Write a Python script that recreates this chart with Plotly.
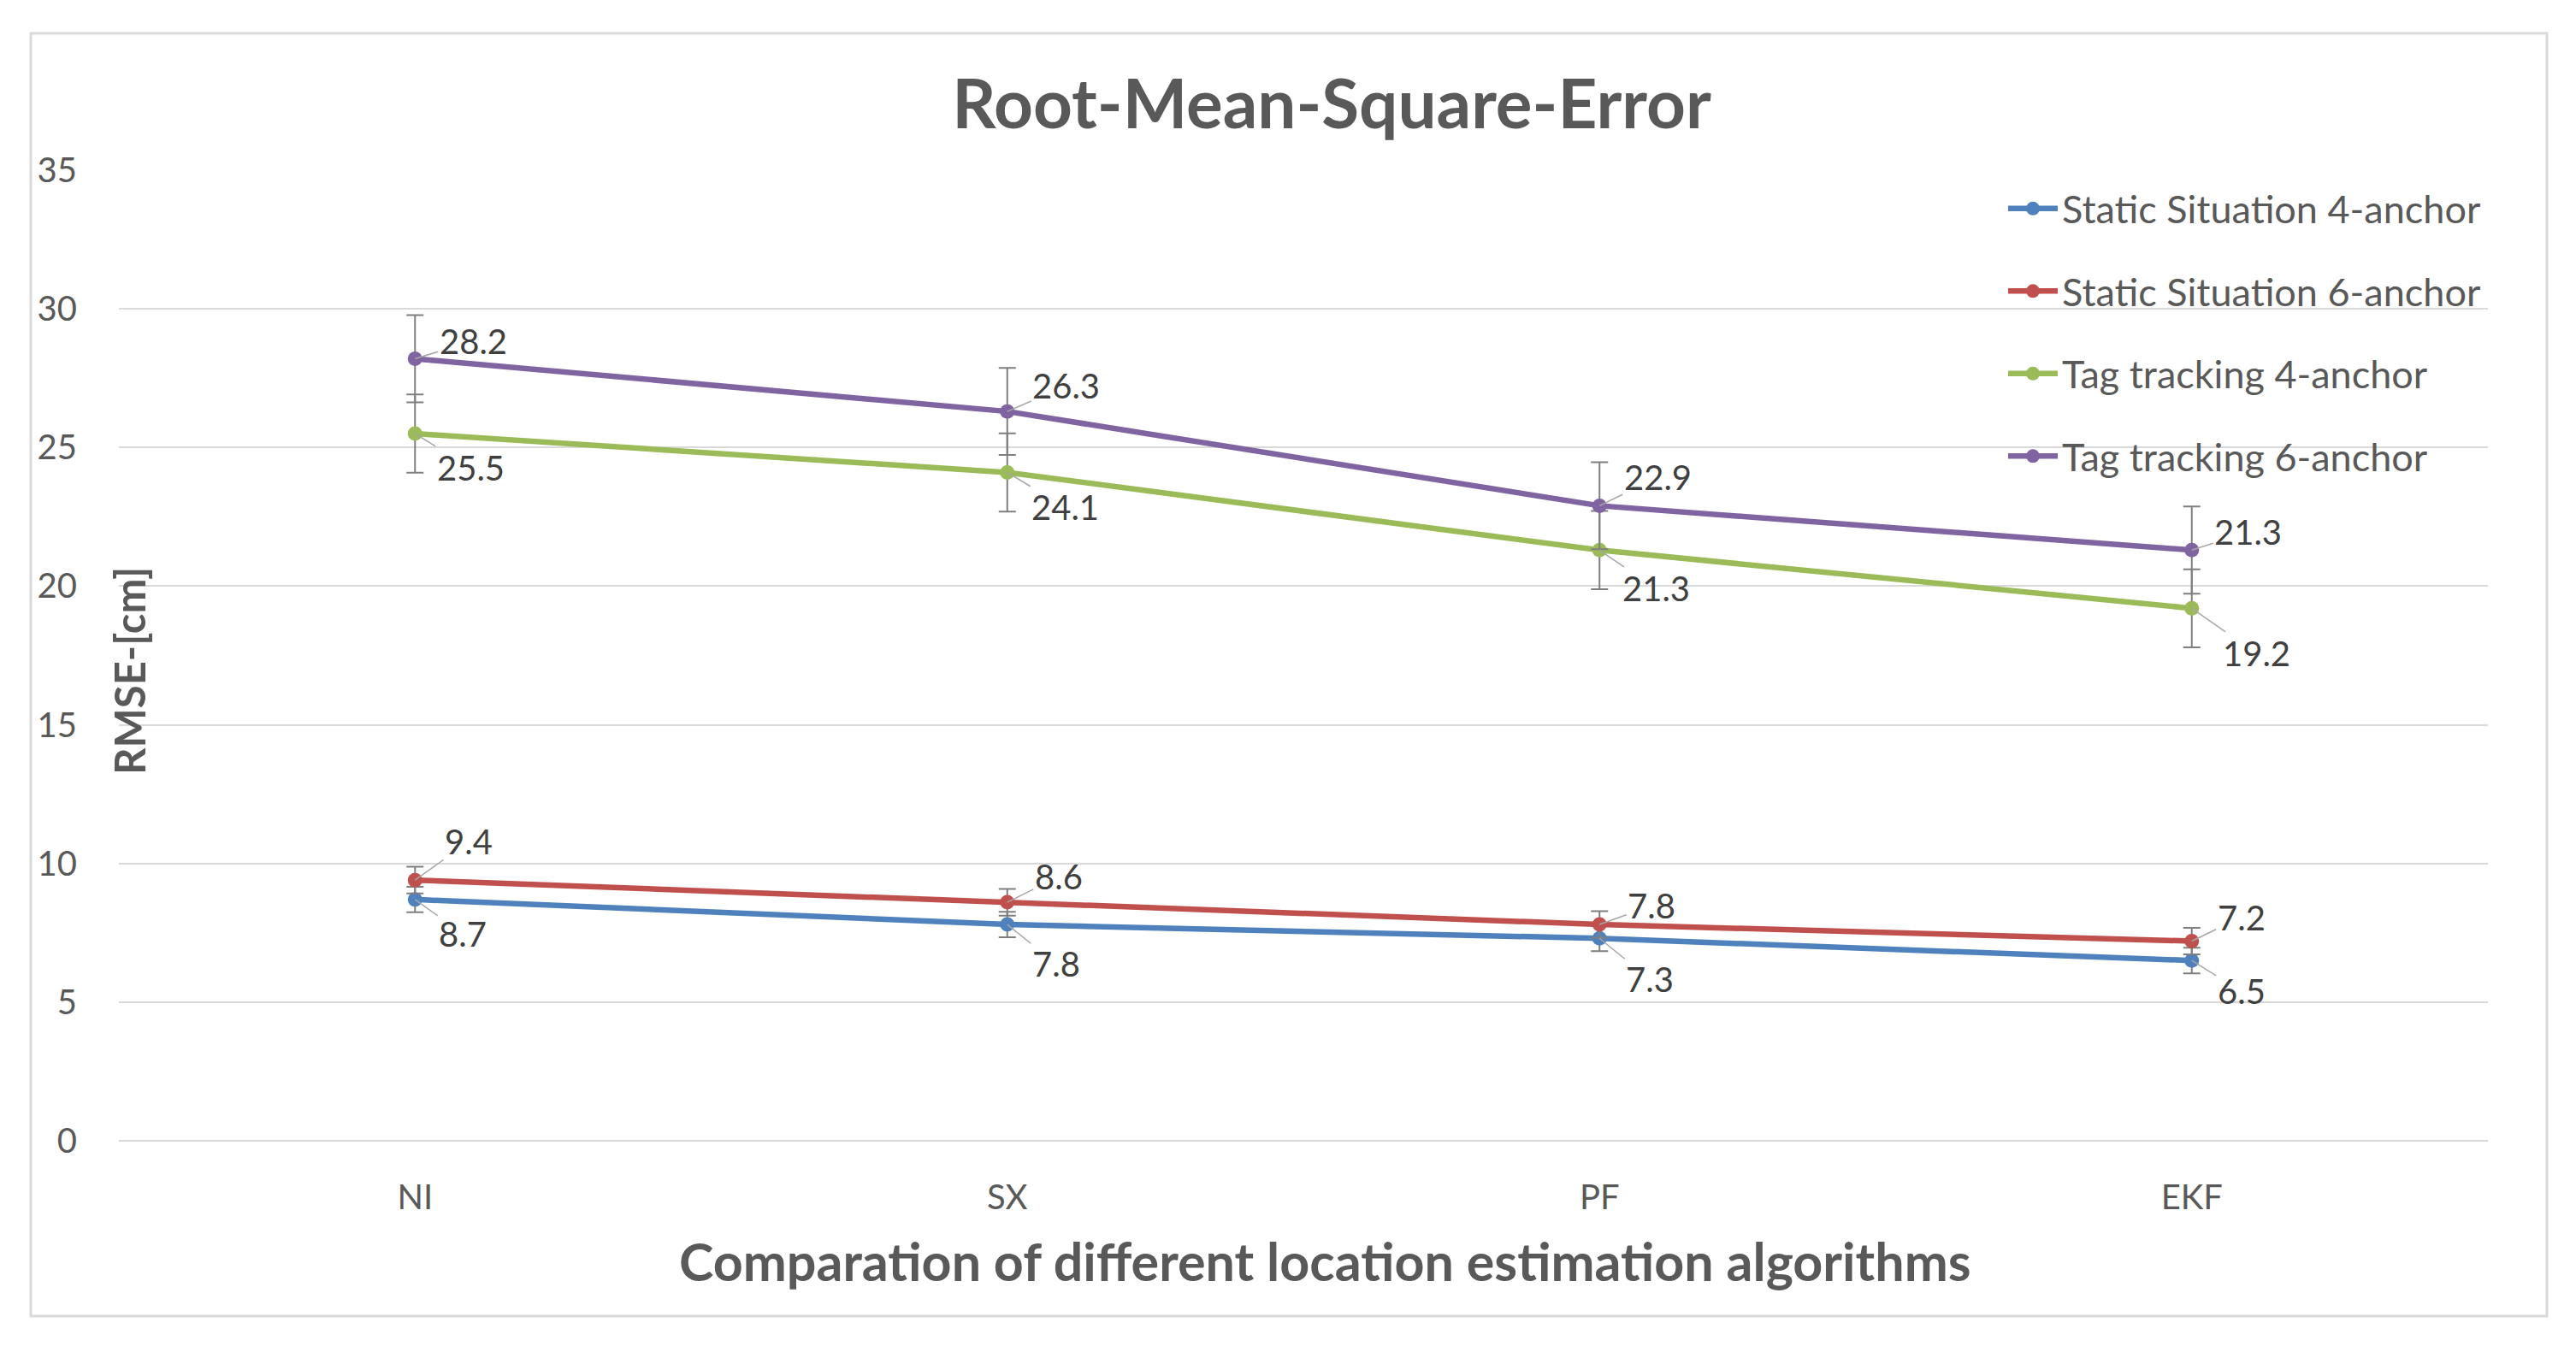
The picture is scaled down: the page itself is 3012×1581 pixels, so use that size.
import plotly.graph_objects as go

categories = ["NI", "SX", "PF", "EKF"]
series_names = ["Static Situation 4-anchor", "Static Situation 6-anchor",
                "Tag tracking 4-anchor", "Tag tracking 6-anchor"]
static_4 = [8.7, 7.8, 7.3, 6.5]
static_6 = [9.4, 8.6, 7.8, 7.2]
tag_4 = [25.5, 24.1, 21.3, 19.2]
tag_6 = [28.2, 26.3, 22.9, 21.3]
# error bar half-lengths (one per series)
err_static_4 = 0.46
err_static_6 = 0.48
err_tag_4 = 1.41
err_tag_6 = 1.57
y_ticks = [0, 5, 10, 15, 20, 25, 30, 35]

W, H = 3012, 1581
SH = 7  # small global shift
ML, MR, MT, MB = 138 - SH, 104 + SH, 198 - SH, 248 + SH
FONT = "Lato, Carlito, Calibri, sans-serif"
TXT = "#595959"

# label offsets (pixels) per point: style only
label_offsets = {
    0: [(56, 40), (57, 46), (59, 48), (58, 36)],
    1: [(63, -45), (60, -30), (61, -22), (58, -28)],
    2: [(65, 40), (68, 41), (66, 45), (76, 53)],
    3: [(68, -21), (69, -30), (68, -33), (66, -21)],
}

series = [
    (series_names[0], static_4, err_static_4, "#4F81BD"),
    (series_names[1], static_6, err_static_6, "#C0504D"),
    (series_names[2], tag_4, err_tag_4, "#9BBB59"),
    (series_names[3], tag_6, err_tag_6, "#8064A2"),
]

fig = go.Figure()
annotations = []
for i, (name, vals, err, color) in enumerate(series):
    fig.add_trace(go.Scatter(
        x=categories, y=vals, name=name, mode="lines+markers",
        line=dict(color=color, width=6.5),
        marker=dict(color=color, size=17),
        legendgroup=f"g{i}",
        error_y=dict(type="constant", value=err, color="#7F7F7F",
                     thickness=2, width=10),
    ))
    for j, (c, v) in enumerate(zip(categories, vals)):
        off = label_offsets[i][j]
        annotations.append(dict(
            x=c, y=v, xref="x", yref="y", text=f"{v:.1f}",
            showarrow=True, arrowhead=0, arrowwidth=1.5, arrowcolor="#A6A6A6",
            ax=off[0], ay=off[1], standoff=0,
            font=dict(family=FONT, size=40, color="#404040"),
        ))

pw = W - ML - MR
ph = H - MT - MB

annotations.append(dict(
    text="<b>RMSE-[cm]</b>", textangle=-90, xref="paper", yref="paper",
    x=(150 - SH - ML) / pw, y=(H - MB - (784 - SH)) / ph,
    xanchor="center", yanchor="middle", showarrow=False,
    font=dict(family=FONT, size=49, color=TXT),
))

annotations.append(dict(
    text="<b>Comparation of different location estimation algorithms</b>",
    xref="paper", yref="paper",
    x=(1541 - ML) / pw, y=(H - MB - 1466) / ph,
    xanchor="center", yanchor="middle", showarrow=False,
    font=dict(family=FONT, size=61, color=TXT),
))

fig.add_shape(type="rect", xref="paper", yref="paper",
              x0=(35 - SH - ML) / pw, x1=(2977 - SH - ML) / pw,
              y0=(H - MB - (1538 - SH)) / ph, y1=(H - MB - (38 - SH)) / ph,
              line=dict(color="#D9D9D9", width=3), fillcolor="rgba(0,0,0,0)",
              layer="below")

fig.update_layout(
    width=W, height=H,
    margin=dict(l=ML, r=MR, t=MT, b=MB),
    paper_bgcolor="white", plot_bgcolor="white",
    font=dict(family=FONT, color=TXT),
    title=dict(text="<b>Root-Mean-Square-Error</b>", x=(1556 - SH) / W,
               y=1 - (121 - SH) / H,
               xref="container", yref="container",
               xanchor="center", yanchor="middle",
               font=dict(family=FONT, size=80, color=TXT)),
    showlegend=True,
    legend=dict(x=(2342 - SH - ML) / pw, y=0.992, xanchor="left", yanchor="top",
                bgcolor="rgba(0,0,0,0)", itemwidth=58, tracegroupgap=35,
                font=dict(family=FONT, size=45, color=TXT)),
    annotations=annotations,
    xaxis=dict(type="category", range=[-0.5, 3.5], showgrid=False,
               showline=False, zeroline=False,
               ticks="outside", ticklen=31, tickcolor="rgba(0,0,0,0)",
               tickfont=dict(family=FONT, size=40, color=TXT)),
    yaxis=dict(range=[0, 35], tickvals=y_ticks, showgrid=True,
               gridcolor="#D9D9D9", gridwidth=2, zeroline=True,
               zerolinecolor="#D9D9D9", zerolinewidth=2, showline=False,
               ticks="outside", ticklen=40, tickcolor="rgba(0,0,0,0)",
               tickfont=dict(family=FONT, size=40, color=TXT)),
)

fig.write_html("out.html")
